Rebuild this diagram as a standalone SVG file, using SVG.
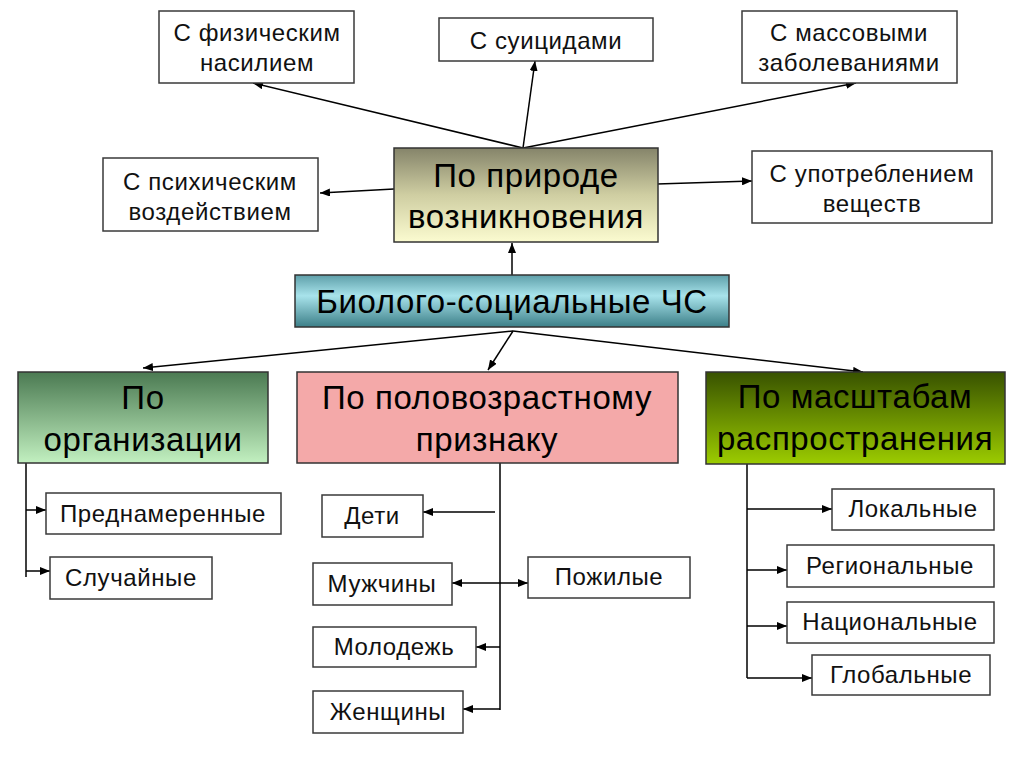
<svg xmlns="http://www.w3.org/2000/svg" width="1024" height="767" viewBox="0 0 1024 767">
<defs>
<linearGradient id="gNature" x1="0" y1="0" x2="0" y2="1">
<stop offset="0" stop-color="#85846a"/><stop offset="0.5" stop-color="#cfcea2"/><stop offset="1" stop-color="#fbfbd0"/>
</linearGradient>
<linearGradient id="gBio" x1="0" y1="0" x2="0" y2="1">
<stop offset="0" stop-color="#5e9fa9"/><stop offset="0.4" stop-color="#a8e3eb"/><stop offset="1" stop-color="#3c7f88"/>
</linearGradient>
<linearGradient id="gOrg" x1="0" y1="0" x2="0" y2="1">
<stop offset="0" stop-color="#4b7a52"/><stop offset="1" stop-color="#c2f0c0"/>
</linearGradient>
<linearGradient id="gScale" x1="0" y1="0" x2="0" y2="1">
<stop offset="0" stop-color="#385200"/><stop offset="1" stop-color="#9ccc00"/>
</linearGradient>
<marker id="ah" markerUnits="userSpaceOnUse" markerWidth="10" markerHeight="8" refX="10" refY="4" orient="auto-start-reverse">
<path d="M0,0 L10,4 L0,8 z" fill="#000"/>
</marker>
</defs>
<style>
.box{fill:#fff;stroke:#3a3a3a;stroke-width:1.5}
.big{stroke:#333;stroke-width:1.5}
.t{font-family:"Liberation Sans",Arial,sans-serif;font-size:24px;letter-spacing:0.6px;fill:#111;text-anchor:middle}
.T{font-family:"Liberation Sans",Arial,sans-serif;font-size:33px;letter-spacing:0.6px;fill:#000;text-anchor:middle}
.c{stroke:#000;stroke-width:1.5;fill:none}
.a{marker-end:url(#ah)}
</style>
<rect width="1024" height="767" fill="#fff"/>
<g id="connectors">
<line class="c a" x1="512" y1="275" x2="512" y2="243"/>
<line class="c a" x1="523" y1="148" x2="253" y2="83"/>
<line class="c a" x1="523" y1="148" x2="535" y2="61"/>
<line class="c a" x1="523" y1="148" x2="856" y2="83"/>
<line class="c a" x1="394" y1="189" x2="320" y2="193"/>
<line class="c a" x1="657" y1="184" x2="752" y2="181"/>
<line class="c a" x1="513" y1="331" x2="143" y2="368"/>
<line class="c a" x1="513" y1="331" x2="488" y2="370"/>
<line class="c a" x1="513" y1="331" x2="863" y2="372"/>
<line class="c" x1="26" y1="463" x2="26" y2="577"/>
<line class="c a" x1="26" y1="510" x2="46" y2="510"/>
<line class="c a" x1="26" y1="571" x2="50" y2="571"/>
<line class="c" x1="500" y1="463" x2="500" y2="710"/>
<line class="c a" x1="495" y1="512" x2="423" y2="512"/>
<line class="c a" x1="452" y1="583" x2="528" y2="583" marker-start="url(#ah)"/>
<line class="c a" x1="500" y1="647" x2="476" y2="647"/>
<line class="c a" x1="500" y1="709" x2="463" y2="709"/>
<line class="c" x1="747" y1="464" x2="747" y2="678"/>
<line class="c a" x1="747" y1="509" x2="832" y2="509"/>
<line class="c a" x1="747" y1="570" x2="787" y2="570"/>
<line class="c a" x1="747" y1="626" x2="787" y2="626"/>
<line class="c a" x1="747" y1="678" x2="812" y2="678"/>
</g>
<g id="n-phys"><rect class="box" x="159" y="11" width="195" height="72"/><text class="t" x="257" y="41">С физическим</text><text class="t" x="257" y="71">насилием</text></g>
<g id="n-suic"><rect class="box" x="439" y="18" width="214" height="43"/><text class="t" x="546" y="49">С суицидами</text></g>
<g id="n-mass"><rect class="box" x="742" y="11" width="215" height="72"/><text class="t" x="849" y="41">С массовыми</text><text class="t" x="849" y="71">заболеваниями</text></g>
<g id="n-psych"><rect class="box" x="103" y="158" width="215" height="73"/><text class="t" x="210" y="190">С психическим</text><text class="t" x="210" y="220">воздействием</text></g>
<g id="n-subst"><rect class="box" x="752" y="151" width="240" height="72"/><text class="t" x="872" y="182">С употреблением</text><text class="t" x="872" y="212">веществ</text></g>
<g id="n-nature"><rect class="big" x="394" y="148" width="264" height="94" fill="url(#gNature)"/><text class="T" x="526" y="187">По природе</text><text class="T" x="526" y="228">возникновения</text></g>
<g id="n-bio"><rect class="big" x="295" y="275" width="434" height="52" fill="url(#gBio)"/><text class="T" x="512" y="313">Биолого-социальные ЧС</text></g>
<g id="n-org"><rect class="big" x="18" y="372" width="250" height="91" fill="url(#gOrg)"/><text class="T" x="143" y="409">По</text><text class="T" x="143" y="451">организации</text></g>
<g id="n-sex"><rect class="big" x="297" y="372" width="381" height="91" fill="#f4a9a9"/><text class="T" x="487" y="409">По половозрастному</text><text class="T" x="487" y="451">признаку</text></g>
<g id="n-scale"><rect class="big" x="706" y="372" width="299" height="92" fill="url(#gScale)"/><text class="T" x="855" y="408">По масштабам</text><text class="T" x="855" y="450">распространения</text></g>
<g id="n-intent"><rect class="box" x="46" y="493" width="235" height="41"/><text class="t" x="163" y="522">Преднамеренные</text></g>
<g id="n-random"><rect class="box" x="50" y="557" width="162" height="42"/><text class="t" x="131" y="586">Случайные</text></g>
<g id="n-kids"><rect class="box" x="322" y="495" width="101" height="42"/><text class="t" x="372" y="524">Дети</text></g>
<g id="n-men"><rect class="box" x="313" y="563" width="139" height="42"/><text class="t" x="382" y="592">Мужчины</text></g>
<g id="n-old"><rect class="box" x="528" y="557" width="162" height="41"/><text class="t" x="609" y="585">Пожилые</text></g>
<g id="n-youth"><rect class="box" x="313" y="627" width="163" height="40"/><text class="t" x="394" y="655">Молодежь</text></g>
<g id="n-women"><rect class="box" x="313" y="691" width="150" height="42"/><text class="t" x="388" y="720">Женщины</text></g>
<g id="n-local"><rect class="box" x="832" y="489" width="162" height="41"/><text class="t" x="913" y="517">Локальные</text></g>
<g id="n-region"><rect class="box" x="787" y="545" width="207" height="42"/><text class="t" x="890" y="574">Региональные</text></g>
<g id="n-nation"><rect class="box" x="787" y="602" width="207" height="41"/><text class="t" x="890" y="630">Национальные</text></g>
<g id="n-global"><rect class="box" x="812" y="655" width="178" height="40"/><text class="t" x="901" y="683">Глобальные</text></g>
</svg>
